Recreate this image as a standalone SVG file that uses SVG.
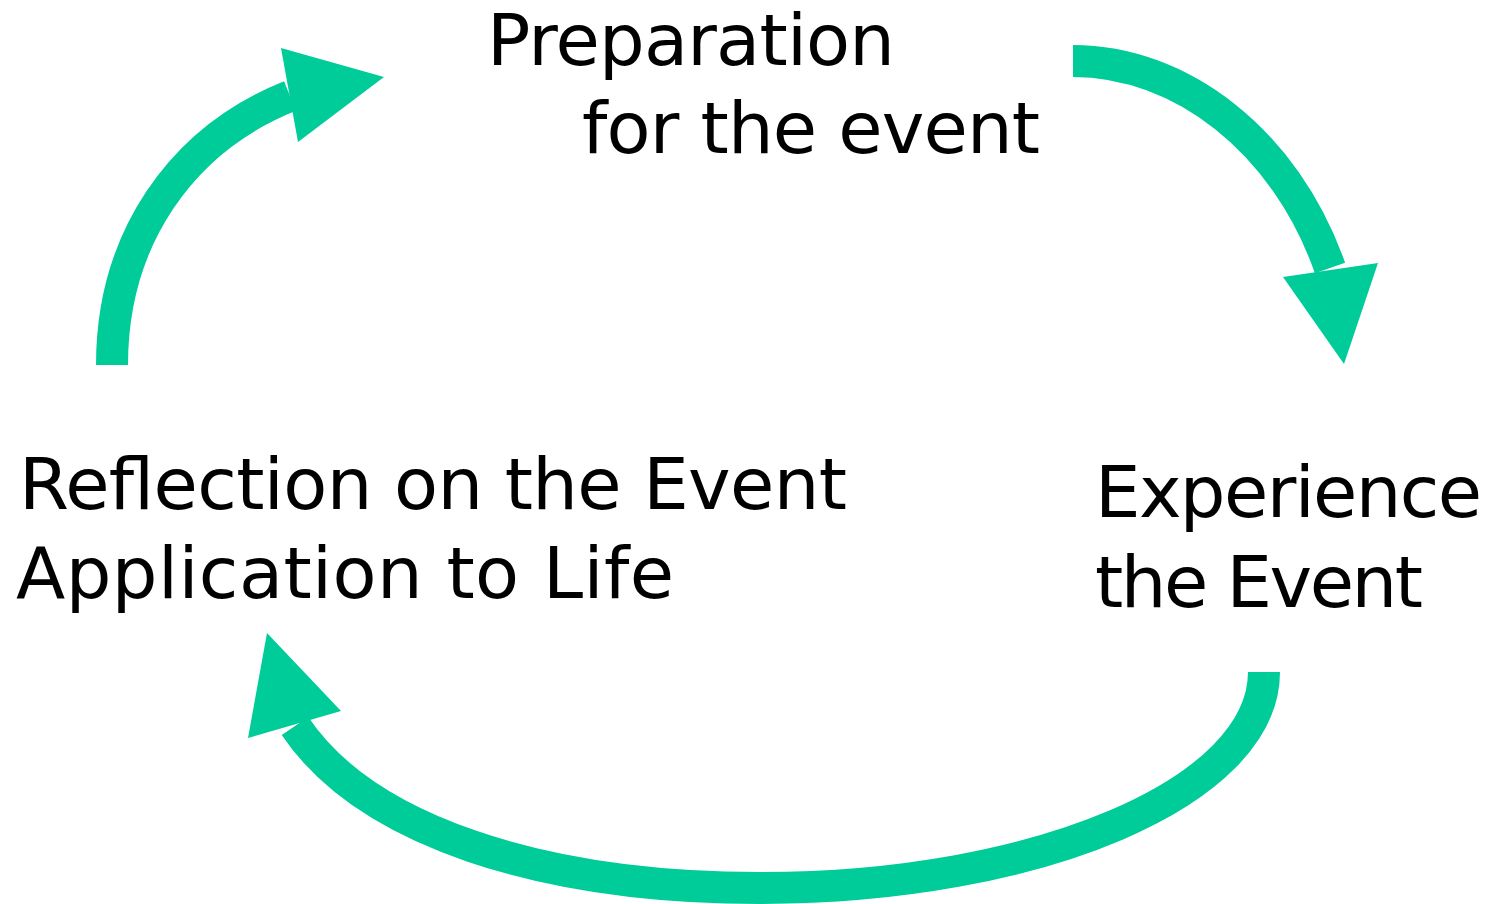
<svg xmlns="http://www.w3.org/2000/svg" width="1497" height="904" viewBox="0 0 1497 904">
<style>
.lbl{font-family:"DejaVu Sans","Noto Sans",sans-serif;font-size:72px;fill:#000}
.shaft{fill:none;stroke:#00CC99;stroke-width:32}
.head{fill:#00CC99}
</style>
<rect width="1497" height="904" fill="#fff"/>
<g id="connectors">
<path class="shaft" d="M112,365 C112,240 180,140 290,96"/>
<polygon class="head" points="281,48 384,77 298,142"/>
<path class="shaft" d="M1073,61 C1180,61 1285,140 1330,268"/>
<polygon class="head" points="1283,277 1378,263 1344,364"/>
<path class="shaft" d="M1264,672 C1264,792 1038,888 760,888 C540,888 365,830 295,726"/>
<polygon class="head" points="267,633 341,711 248,738"/>
</g>
<g id="node-preparation">
<text class="lbl" x="487" y="65" textLength="408" lengthAdjust="spacing">Preparation</text>
<text class="lbl" x="582" y="153" textLength="458" lengthAdjust="spacing">for the event</text>
</g>
<g id="node-experience">
<text class="lbl" x="1095" y="517" textLength="387" lengthAdjust="spacing">Experience</text>
<text class="lbl" x="1095" y="607" textLength="328" lengthAdjust="spacing">the Event</text>
</g>
<g id="node-reflection">
<text class="lbl" x="19" y="509" textLength="828" lengthAdjust="spacing">Reflection on the Event</text>
<text class="lbl" x="16" y="598" textLength="658" lengthAdjust="spacing">Application to Life</text>
</g>
</svg>
